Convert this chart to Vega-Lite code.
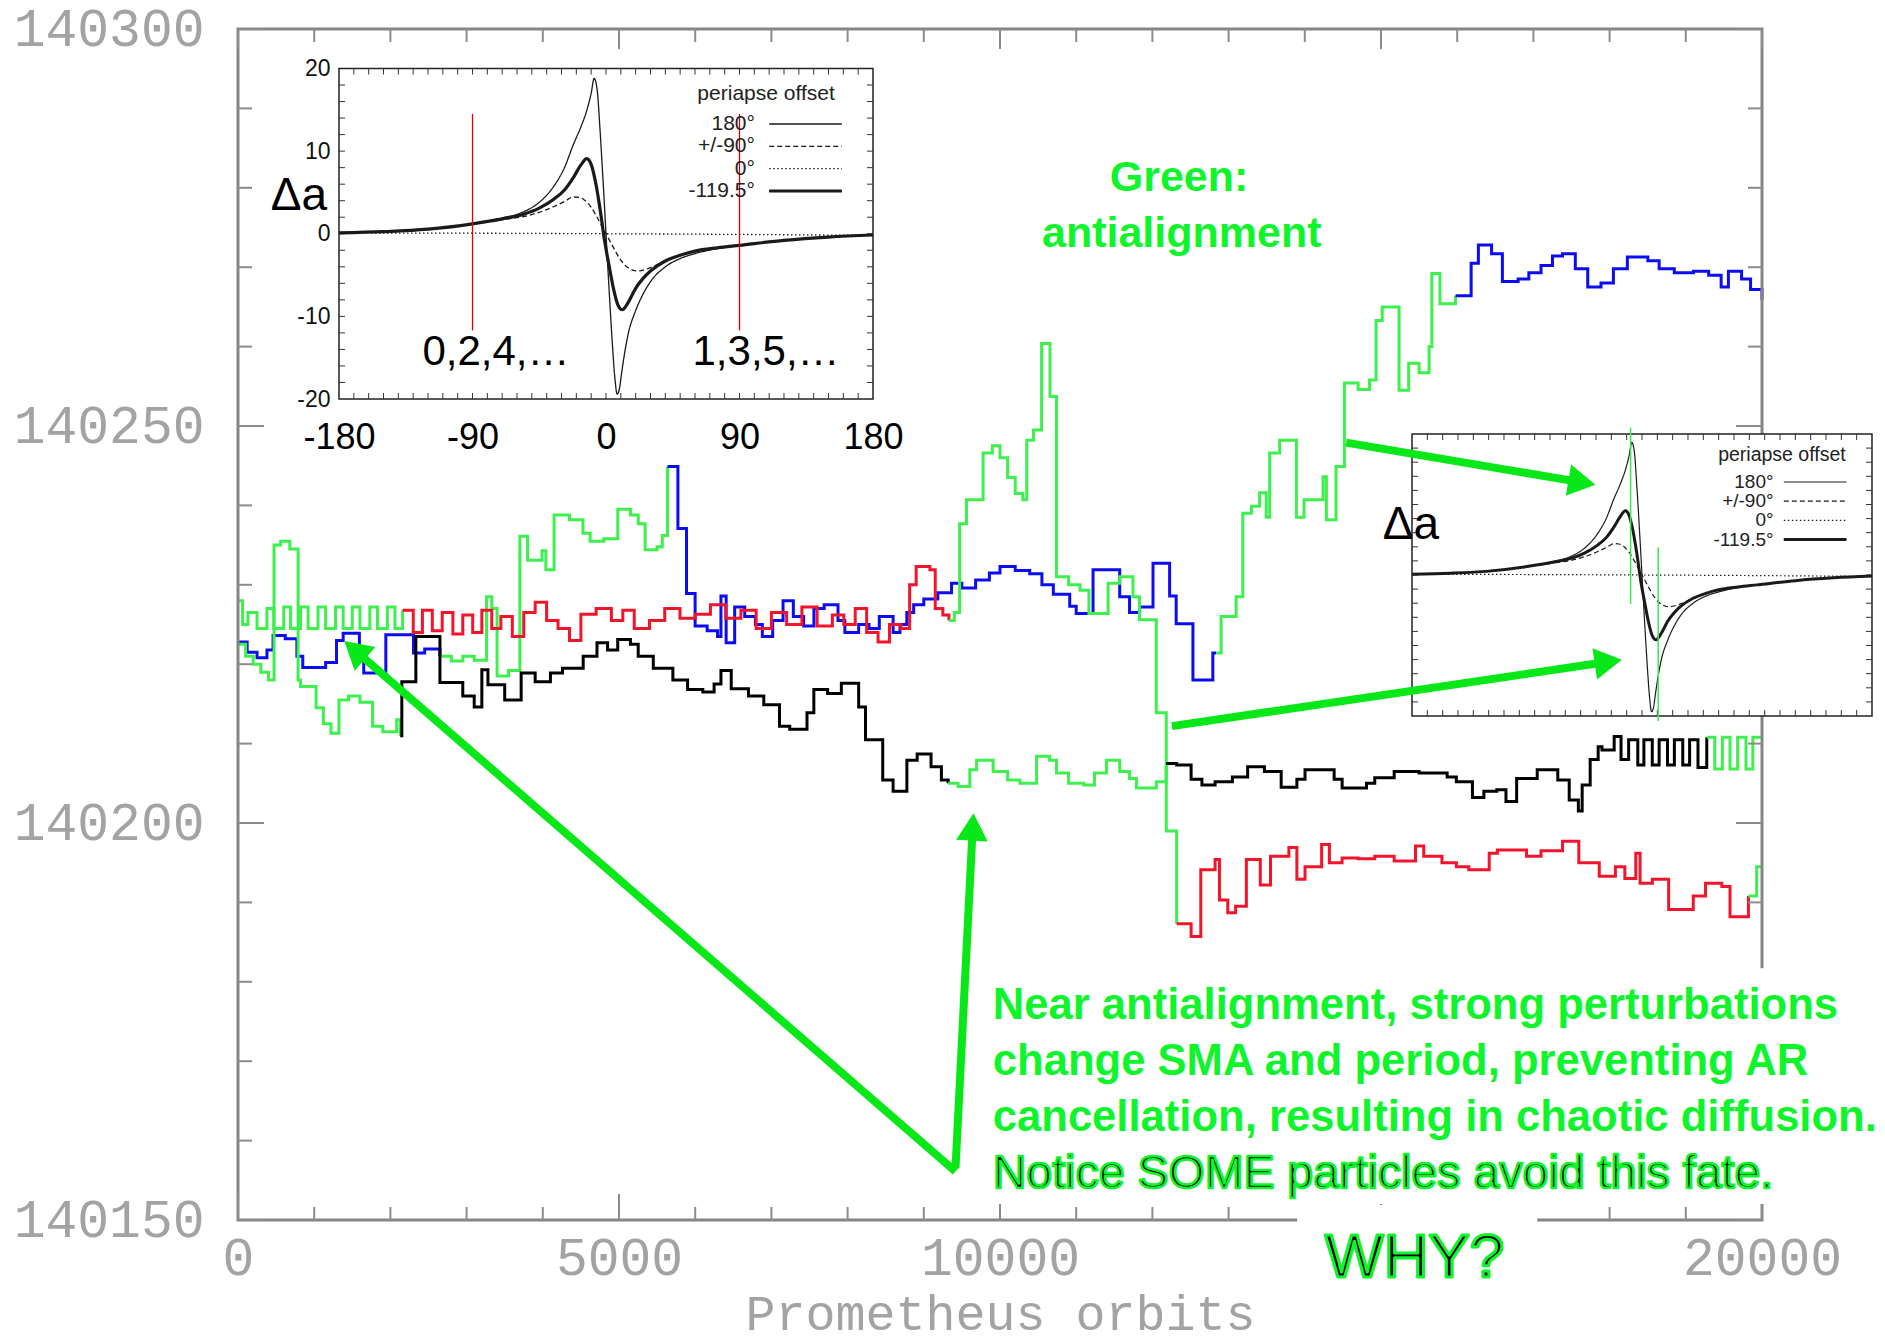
{
  "$schema": "https://vega.github.io/schema/vega-lite/v6.json",
  "width": 1524,
  "height": 1191,
  "autosize": {"type": "none"},
  "padding": {"left": 238, "top": 29, "right": 123, "bottom": 123},
  "background": "white",
  "config": {"view": {"stroke": null}, "text": {"font": "Liberation Sans"}},
  "data": {"values": [{}]},
  "datasets": {
    "tracks": [
      {"s":"A1","c":"blue","x":0,"y":140222.8},{"s":"A1","c":"blue","x":120,"y":140221.5},{"s":"A1","c":"blue","x":250,"y":140220.8},{"s":"A1","c":"blue","x":380,"y":140221.8},{"s":"A1","c":"blue","x":460,"y":140223.6},{"s":"A1","c":"blue","x":620,"y":140223.2},{"s":"A1","c":"blue","x":773,"y":140221.0},{"s":"A1","c":"blue","x":850,"y":140219.6},{"s":"A1","c":"blue","x":1150,"y":140220.2},{"s":"A1","c":"blue","x":1293,"y":140223.0},{"s":"A1","c":"blue","x":1380,"y":140223.9},{"s":"A1","c":"blue","x":1593,"y":140220.5},{"s":"A1","c":"blue","x":1650,"y":140218.9},{"s":"A1","c":"blue","x":1940,"y":140223.7},{"s":"A1","c":"blue","x":2303,"y":140221.4},{"s":"A1","c":"blue","x":2450,"y":140221.9},{"s":"A1","c":"blue","x":2650,"y":140221.0},
      {"s":"A2","c":"green","x":2650,"y":140221.0},{"s":"A2","c":"green","x":2800,"y":140220.4},{"s":"A2","c":"green","x":2950,"y":140221.0},{"s":"A2","c":"green","x":3100,"y":140220.5},{"s":"A2","c":"green","x":3262,"y":140228.5},{"s":"A2","c":"green","x":3330,"y":140227.0},{"s":"A2","c":"green","x":3400,"y":140218.5},{"s":"A2","c":"green","x":3550,"y":140219.2},{"s":"A2","c":"green","x":3699,"y":140236.1},{"s":"A2","c":"green","x":3800,"y":140233.1},{"s":"A2","c":"green","x":3990,"y":140234.3},{"s":"A2","c":"green","x":4040,"y":140231.9},{"s":"A2","c":"green","x":4148,"y":140238.8},{"s":"A2","c":"green","x":4350,"y":140238.2},{"s":"A2","c":"green","x":4527,"y":140236.5},{"s":"A2","c":"green","x":4621,"y":140235.5},{"s":"A2","c":"green","x":4800,"y":140235.8},{"s":"A2","c":"green","x":4984,"y":140239.5},{"s":"A2","c":"green","x":5150,"y":140238.8},{"s":"A2","c":"green","x":5253,"y":140237.7},{"s":"A2","c":"green","x":5343,"y":140234.4},{"s":"A2","c":"green","x":5500,"y":140234.8},{"s":"A2","c":"green","x":5568,"y":140236.2},{"s":"A2","c":"green","x":5636,"y":140244.9},
      {"s":"A3","c":"blue","x":5636,"y":140244.9},{"s":"A3","c":"blue","x":5773,"y":140237.1},{"s":"A3","c":"blue","x":5886,"y":140228.9},{"s":"A3","c":"blue","x":5999,"y":140224.8},{"s":"A3","c":"blue","x":6157,"y":140224.2},{"s":"A3","c":"blue","x":6293,"y":140223.5},{"s":"A3","c":"blue","x":6338,"y":140228.6},{"s":"A3","c":"blue","x":6406,"y":140222.7},{"s":"A3","c":"blue","x":6518,"y":140227.2},{"s":"A3","c":"blue","x":6650,"y":140226.0},{"s":"A3","c":"blue","x":6790,"y":140225.0},{"s":"A3","c":"blue","x":6881,"y":140223.5},{"s":"A3","c":"blue","x":7017,"y":140225.5},{"s":"A3","c":"blue","x":7153,"y":140228.0},{"s":"A3","c":"blue","x":7288,"y":140226.0},{"s":"A3","c":"blue","x":7423,"y":140224.8},{"s":"A3","c":"blue","x":7558,"y":140227.0},{"s":"A3","c":"blue","x":7693,"y":140227.5},{"s":"A3","c":"blue","x":7874,"y":140225.5},{"s":"A3","c":"blue","x":7964,"y":140224.0},{"s":"A3","c":"blue","x":8145,"y":140225.0},{"s":"A3","c":"blue","x":8281,"y":140224.5},{"s":"A3","c":"blue","x":8416,"y":140226.0},{"s":"A3","c":"blue","x":8597,"y":140224.0},{"s":"A3","c":"blue","x":8687,"y":140225.0},{"s":"A3","c":"blue","x":8777,"y":140226.5},{"s":"A3","c":"blue","x":8867,"y":140227.5},{"s":"A3","c":"blue","x":9000,"y":140228.2},{"s":"A3","c":"blue","x":9184,"y":140229.0},{"s":"A3","c":"blue","x":9364,"y":140230.2},{"s":"A3","c":"blue","x":9499,"y":140229.6},{"s":"A3","c":"blue","x":9680,"y":140230.6},{"s":"A3","c":"blue","x":9861,"y":140231.5},{"s":"A3","c":"blue","x":10000,"y":140232.3},{"s":"A3","c":"blue","x":10200,"y":140231.8},{"s":"A3","c":"blue","x":10390,"y":140231.4},{"s":"A3","c":"blue","x":10550,"y":140230.0},{"s":"A3","c":"blue","x":10700,"y":140228.8},{"s":"A3","c":"blue","x":10915,"y":140227.3},{"s":"A3","c":"blue","x":11000,"y":140226.4},{"s":"A3","c":"blue","x":11221,"y":140231.9},{"s":"A3","c":"blue","x":11571,"y":140228.5},{"s":"A3","c":"blue","x":11700,"y":140226.5},{"s":"A3","c":"blue","x":11833,"y":140227.2},{"s":"A3","c":"blue","x":12008,"y":140232.7},{"s":"A3","c":"blue","x":12226,"y":140228.6},{"s":"A3","c":"blue","x":12312,"y":140225.1},{"s":"A3","c":"blue","x":12532,"y":140218.0},{"s":"A3","c":"blue","x":12793,"y":140221.4},{"s":"A3","c":"blue","x":12838,"y":140221.4},
      {"s":"A4","c":"green","x":12838,"y":140221.4},{"s":"A4","c":"green","x":12902,"y":140226.0},{"s":"A4","c":"green","x":13099,"y":140228.5},{"s":"A4","c":"green","x":13186,"y":140239.0},{"s":"A4","c":"green","x":13300,"y":140239.9},{"s":"A4","c":"green","x":13407,"y":140241.6},{"s":"A4","c":"green","x":13494,"y":140238.5},{"s":"A4","c":"green","x":13539,"y":140246.6},{"s":"A4","c":"green","x":13670,"y":140248.2},{"s":"A4","c":"green","x":13890,"y":140238.5},{"s":"A4","c":"green","x":13990,"y":140240.7},{"s":"A4","c":"green","x":14240,"y":140243.6},{"s":"A4","c":"green","x":14283,"y":140238.2},{"s":"A4","c":"green","x":14410,"y":140244.9},{"s":"A4","c":"green","x":14520,"y":140255.4},{"s":"A4","c":"green","x":14700,"y":140254.6},{"s":"A4","c":"green","x":14850,"y":140255.8},{"s":"A4","c":"green","x":14935,"y":140263.3},{"s":"A4","c":"green","x":15016,"y":140265.0},{"s":"A4","c":"green","x":15237,"y":140254.5},{"s":"A4","c":"green","x":15363,"y":140257.9},{"s":"A4","c":"green","x":15500,"y":140256.7},{"s":"A4","c":"green","x":15631,"y":140260.0},{"s":"A4","c":"green","x":15667,"y":140269.2},{"s":"A4","c":"green","x":15773,"y":140265.4},{"s":"A4","c":"green","x":15978,"y":140266.4},
      {"s":"A5","c":"blue","x":15978,"y":140266.4},{"s":"A5","c":"blue","x":16183,"y":140270.5},{"s":"A5","c":"blue","x":16278,"y":140272.8},{"s":"A5","c":"blue","x":16451,"y":140271.7},{"s":"A5","c":"blue","x":16593,"y":140268.2},{"s":"A5","c":"blue","x":16800,"y":140268.5},{"s":"A5","c":"blue","x":16940,"y":140269.3},{"s":"A5","c":"blue","x":17100,"y":140270.2},{"s":"A5","c":"blue","x":17250,"y":140271.4},{"s":"A5","c":"blue","x":17382,"y":140271.7},{"s":"A5","c":"blue","x":17550,"y":140269.8},{"s":"A5","c":"blue","x":17713,"y":140267.5},{"s":"A5","c":"blue","x":17887,"y":140268.0},{"s":"A5","c":"blue","x":18050,"y":140269.8},{"s":"A5","c":"blue","x":18233,"y":140271.3},{"s":"A5","c":"blue","x":18502,"y":140270.8},{"s":"A5","c":"blue","x":18650,"y":140269.8},{"s":"A5","c":"blue","x":18849,"y":140269.3},{"s":"A5","c":"blue","x":19100,"y":140269.5},{"s":"A5","c":"blue","x":19300,"y":140269.0},{"s":"A5","c":"blue","x":19464,"y":140267.5},{"s":"A5","c":"blue","x":19559,"y":140269.5},{"s":"A5","c":"blue","x":19732,"y":140268.5},{"s":"A5","c":"blue","x":19850,"y":140267.2},{"s":"A5","c":"blue","x":20000,"y":140265.9},
      {"s":"B1","c":"green","x":0,"y":140228.0},{"s":"B1","c":"green","x":60,"y":140225.0},{"s":"B1","c":"green","x":130,"y":140226.5},{"s":"B1","c":"green","x":250,"y":140224.5},{"s":"B1","c":"green","x":380,"y":140227.0},{"s":"B1","c":"green","x":470,"y":140224.5},{"s":"B1","c":"green","x":600,"y":140227.2},{"s":"B1","c":"green","x":690,"y":140224.5},{"s":"B1","c":"green","x":820,"y":140227.2},{"s":"B1","c":"green","x":920,"y":140224.5},{"s":"B1","c":"green","x":1050,"y":140227.2},{"s":"B1","c":"green","x":1150,"y":140224.5},{"s":"B1","c":"green","x":1280,"y":140227.2},{"s":"B1","c":"green","x":1380,"y":140224.5},{"s":"B1","c":"green","x":1500,"y":140227.2},{"s":"B1","c":"green","x":1600,"y":140224.5},{"s":"B1","c":"green","x":1730,"y":140227.2},{"s":"B1","c":"green","x":1830,"y":140224.5},{"s":"B1","c":"green","x":1960,"y":140227.2},{"s":"B1","c":"green","x":2060,"y":140224.5},{"s":"B1","c":"green","x":2160,"y":140226.8},
      {"s":"B2","c":"red","x":2160,"y":140226.8},{"s":"B2","c":"red","x":2300,"y":140224.0},{"s":"B2","c":"red","x":2420,"y":140226.8},{"s":"B2","c":"red","x":2550,"y":140224.2},{"s":"B2","c":"red","x":2680,"y":140226.5},{"s":"B2","c":"red","x":2820,"y":140223.8},{"s":"B2","c":"red","x":2950,"y":140226.2},{"s":"B2","c":"red","x":3080,"y":140224.0},{"s":"B2","c":"red","x":3200,"y":140226.8},{"s":"B2","c":"red","x":3330,"y":140224.5},{"s":"B2","c":"red","x":3450,"y":140226.0},{"s":"B2","c":"red","x":3600,"y":140223.5},{"s":"B2","c":"red","x":3750,"y":140226.5},{"s":"B2","c":"red","x":3900,"y":140227.8},{"s":"B2","c":"red","x":4050,"y":140225.5},{"s":"B2","c":"red","x":4200,"y":140224.5},{"s":"B2","c":"red","x":4350,"y":140223.0},{"s":"B2","c":"red","x":4500,"y":140226.3},{"s":"B2","c":"red","x":4700,"y":140227.0},{"s":"B2","c":"red","x":4900,"y":140225.5},{"s":"B2","c":"red","x":5050,"y":140226.8},{"s":"B2","c":"red","x":5200,"y":140224.5},{"s":"B2","c":"red","x":5400,"y":140225.5},{"s":"B2","c":"red","x":5600,"y":140227.0},{"s":"B2","c":"red","x":5800,"y":140225.8},{"s":"B2","c":"red","x":6000,"y":140226.3},{"s":"B2","c":"red","x":6200,"y":140227.5},{"s":"B2","c":"red","x":6400,"y":140225.8},{"s":"B2","c":"red","x":6600,"y":140226.8},{"s":"B2","c":"red","x":6800,"y":140224.5},{"s":"B2","c":"red","x":7000,"y":140226.5},{"s":"B2","c":"red","x":7200,"y":140225.0},{"s":"B2","c":"red","x":7400,"y":140227.2},{"s":"B2","c":"red","x":7600,"y":140224.8},{"s":"B2","c":"red","x":7800,"y":140226.2},{"s":"B2","c":"red","x":7950,"y":140225.0},{"s":"B2","c":"red","x":8100,"y":140227.0},{"s":"B2","c":"red","x":8250,"y":140224.0},{"s":"B2","c":"red","x":8400,"y":140222.8},{"s":"B2","c":"red","x":8550,"y":140225.0},{"s":"B2","c":"red","x":8700,"y":140224.5},{"s":"B2","c":"red","x":8814,"y":140230.0},{"s":"B2","c":"red","x":8900,"y":140232.3},{"s":"B2","c":"red","x":9080,"y":140231.9},{"s":"B2","c":"red","x":9150,"y":140227.0},{"s":"B2","c":"red","x":9250,"y":140226.2},{"s":"B2","c":"red","x":9330,"y":140225.5},
      {"s":"B3","c":"green","x":9330,"y":140225.5},{"s":"B3","c":"green","x":9400,"y":140226.5},{"s":"B3","c":"green","x":9470,"y":140237.7},{"s":"B3","c":"green","x":9560,"y":140240.7},{"s":"B3","c":"green","x":9778,"y":140246.6},{"s":"B3","c":"green","x":9900,"y":140247.5},{"s":"B3","c":"green","x":10000,"y":140246.0},{"s":"B3","c":"green","x":10100,"y":140243.5},{"s":"B3","c":"green","x":10200,"y":140241.5},{"s":"B3","c":"green","x":10300,"y":140240.7},{"s":"B3","c":"green","x":10351,"y":140248.2},{"s":"B3","c":"green","x":10440,"y":140249.5},{"s":"B3","c":"green","x":10546,"y":140260.4},{"s":"B3","c":"green","x":10656,"y":140253.7},{"s":"B3","c":"green","x":10741,"y":140231.0},{"s":"B3","c":"green","x":10900,"y":140230.0},{"s":"B3","c":"green","x":11050,"y":140229.3},{"s":"B3","c":"green","x":11167,"y":140226.4},{"s":"B3","c":"green","x":11419,"y":140230.2},{"s":"B3","c":"green","x":11571,"y":140231.0},{"s":"B3","c":"green","x":11745,"y":140228.5},{"s":"B3","c":"green","x":11830,"y":140225.6},{"s":"B3","c":"green","x":12051,"y":140213.9},{"s":"B3","c":"green","x":12182,"y":140199.0},{"s":"B3","c":"green","x":12318,"y":140187.3},
      {"s":"B4","c":"red","x":12318,"y":140187.3},{"s":"B4","c":"red","x":12508,"y":140185.7},{"s":"B4","c":"red","x":12635,"y":140194.1},{"s":"B4","c":"red","x":12823,"y":140195.4},{"s":"B4","c":"red","x":12880,"y":140190.3},{"s":"B4","c":"red","x":12989,"y":140188.7},{"s":"B4","c":"red","x":13092,"y":140189.5},{"s":"B4","c":"red","x":13233,"y":140195.4},{"s":"B4","c":"red","x":13416,"y":140192.2},{"s":"B4","c":"red","x":13550,"y":140195.8},{"s":"B4","c":"red","x":13791,"y":140196.9},{"s":"B4","c":"red","x":13896,"y":140192.9},{"s":"B4","c":"red","x":14003,"y":140194.5},{"s":"B4","c":"red","x":14221,"y":140197.3},{"s":"B4","c":"red","x":14323,"y":140195.0},{"s":"B4","c":"red","x":14489,"y":140195.6},{"s":"B4","c":"red","x":14700,"y":140195.5},{"s":"B4","c":"red","x":14918,"y":140195.8},{"s":"B4","c":"red","x":15173,"y":140195.2},{"s":"B4","c":"red","x":15453,"y":140197.1},{"s":"B4","c":"red","x":15561,"y":140195.8},{"s":"B4","c":"red","x":15800,"y":140195.0},{"s":"B4","c":"red","x":15989,"y":140194.5},{"s":"B4","c":"red","x":16152,"y":140194.1},{"s":"B4","c":"red","x":16420,"y":140196.2},{"s":"B4","c":"red","x":16527,"y":140196.6},{"s":"B4","c":"red","x":16910,"y":140195.8},{"s":"B4","c":"red","x":17100,"y":140196.5},{"s":"B4","c":"red","x":17382,"y":140197.7},{"s":"B4","c":"red","x":17596,"y":140195.0},{"s":"B4","c":"red","x":17864,"y":140193.3},{"s":"B4","c":"red","x":18076,"y":140194.5},{"s":"B4","c":"red","x":18200,"y":140193.0},{"s":"B4","c":"red","x":18344,"y":140196.2},{"s":"B4","c":"red","x":18400,"y":140192.4},{"s":"B4","c":"red","x":18561,"y":140192.9},{"s":"B4","c":"red","x":18775,"y":140189.1},{"s":"B4","c":"red","x":19098,"y":140190.8},{"s":"B4","c":"red","x":19259,"y":140192.4},{"s":"B4","c":"red","x":19473,"y":140192.0},{"s":"B4","c":"red","x":19580,"y":140188.2},{"s":"B4","c":"red","x":19822,"y":140190.8},
      {"s":"B5","c":"green","x":19822,"y":140190.8},{"s":"B5","c":"green","x":19930,"y":140194.5},{"s":"B5","c":"green","x":20000,"y":140194.5},
      {"s":"C1","c":"green","x":0,"y":140222.5},{"s":"C1","c":"green","x":100,"y":140221.0},{"s":"C1","c":"green","x":200,"y":140220.0},{"s":"C1","c":"green","x":300,"y":140219.0},{"s":"C1","c":"green","x":400,"y":140218.0},{"s":"C1","c":"green","x":473,"y":140235.0},{"s":"C1","c":"green","x":560,"y":140235.5},{"s":"C1","c":"green","x":680,"y":140234.5},{"s":"C1","c":"green","x":789,"y":140218.0},{"s":"C1","c":"green","x":820,"y":140217.2},{"s":"C1","c":"green","x":1025,"y":140214.5},{"s":"C1","c":"green","x":1120,"y":140212.5},{"s":"C1","c":"green","x":1220,"y":140211.3},{"s":"C1","c":"green","x":1325,"y":140215.5},{"s":"C1","c":"green","x":1451,"y":140216.0},{"s":"C1","c":"green","x":1600,"y":140215.2},{"s":"C1","c":"green","x":1766,"y":140212.2},{"s":"C1","c":"green","x":1900,"y":140211.5},{"s":"C1","c":"green","x":2082,"y":140213.0},{"s":"C1","c":"green","x":2129,"y":140211.0},
      {"s":"C2","c":"black","x":2129,"y":140211.0},{"s":"C2","c":"black","x":2150,"y":140217.8},{"s":"C2","c":"black","x":2334,"y":140223.5},{"s":"C2","c":"black","x":2650,"y":140217.7},{"s":"C2","c":"black","x":2950,"y":140216.0},{"s":"C2","c":"black","x":3100,"y":140214.6},{"s":"C2","c":"black","x":3200,"y":140219.3},{"s":"C2","c":"black","x":3280,"y":140217.4},{"s":"C2","c":"black","x":3500,"y":140215.5},{"s":"C2","c":"black","x":3716,"y":140218.9},{"s":"C2","c":"black","x":3900,"y":140217.8},{"s":"C2","c":"black","x":4100,"y":140218.9},{"s":"C2","c":"black","x":4259,"y":140219.5},{"s":"C2","c":"black","x":4530,"y":140221.0},{"s":"C2","c":"black","x":4711,"y":140222.7},{"s":"C2","c":"black","x":4850,"y":140221.8},{"s":"C2","c":"black","x":4983,"y":140223.1},{"s":"C2","c":"black","x":5150,"y":140222.5},{"s":"C2","c":"black","x":5252,"y":140221.0},{"s":"C2","c":"black","x":5450,"y":140219.5},{"s":"C2","c":"black","x":5707,"y":140218.0},{"s":"C2","c":"black","x":5900,"y":140216.8},{"s":"C2","c":"black","x":6100,"y":140216.5},{"s":"C2","c":"black","x":6248,"y":140217.5},{"s":"C2","c":"black","x":6338,"y":140219.2},{"s":"C2","c":"black","x":6473,"y":140216.9},{"s":"C2","c":"black","x":6699,"y":140216.0},{"s":"C2","c":"black","x":6900,"y":140214.9},{"s":"C2","c":"black","x":7106,"y":140212.2},{"s":"C2","c":"black","x":7241,"y":140211.8},{"s":"C2","c":"black","x":7467,"y":140213.9},{"s":"C2","c":"black","x":7557,"y":140216.8},{"s":"C2","c":"black","x":7738,"y":140216.3},{"s":"C2","c":"black","x":7918,"y":140217.6},{"s":"C2","c":"black","x":8145,"y":140214.6},{"s":"C2","c":"black","x":8235,"y":140210.5},{"s":"C2","c":"black","x":8461,"y":140205.4},{"s":"C2","c":"black","x":8597,"y":140204.0},{"s":"C2","c":"black","x":8778,"y":140207.9},{"s":"C2","c":"black","x":8913,"y":140208.7},{"s":"C2","c":"black","x":9095,"y":140207.1},{"s":"C2","c":"black","x":9231,"y":140205.4},{"s":"C2","c":"black","x":9320,"y":140205.0},
      {"s":"C3","c":"green","x":9320,"y":140205.0},{"s":"C3","c":"green","x":9450,"y":140204.6},{"s":"C3","c":"green","x":9604,"y":140206.7},{"s":"C3","c":"green","x":9692,"y":140207.9},{"s":"C3","c":"green","x":9910,"y":140206.5},{"s":"C3","c":"green","x":10100,"y":140205.4},{"s":"C3","c":"green","x":10262,"y":140205.0},{"s":"C3","c":"green","x":10480,"y":140208.4},{"s":"C3","c":"green","x":10650,"y":140207.9},{"s":"C3","c":"green","x":10741,"y":140206.3},{"s":"C3","c":"green","x":10900,"y":140205.0},{"s":"C3","c":"green","x":11100,"y":140204.8},{"s":"C3","c":"green","x":11240,"y":140206.3},{"s":"C3","c":"green","x":11396,"y":140207.9},{"s":"C3","c":"green","x":11571,"y":140206.5},{"s":"C3","c":"green","x":11700,"y":140205.6},{"s":"C3","c":"green","x":11790,"y":140204.4},{"s":"C3","c":"green","x":12051,"y":140205.2},{"s":"C3","c":"green","x":12180,"y":140207.5},
      {"s":"C4","c":"black","x":12180,"y":140207.5},{"s":"C4","c":"black","x":12318,"y":140207.3},{"s":"C4","c":"black","x":12508,"y":140205.5},{"s":"C4","c":"black","x":12650,"y":140204.8},{"s":"C4","c":"black","x":12823,"y":140205.2},{"s":"C4","c":"black","x":13050,"y":140205.8},{"s":"C4","c":"black","x":13250,"y":140207.1},{"s":"C4","c":"black","x":13470,"y":140206.5},{"s":"C4","c":"black","x":13690,"y":140204.5},{"s":"C4","c":"black","x":13896,"y":140205.5},{"s":"C4","c":"black","x":14003,"y":140206.7},{"s":"C4","c":"black","x":14385,"y":140205.5},{"s":"C4","c":"black","x":14490,"y":140204.4},{"s":"C4","c":"black","x":14810,"y":140205.0},{"s":"C4","c":"black","x":14918,"y":140205.7},{"s":"C4","c":"black","x":15173,"y":140206.5},{"s":"C4","c":"black","x":15500,"y":140206.3},{"s":"C4","c":"black","x":15868,"y":140205.8},{"s":"C4","c":"black","x":15989,"y":140205.2},{"s":"C4","c":"black","x":16200,"y":140203.2},{"s":"C4","c":"black","x":16350,"y":140204.0},{"s":"C4","c":"black","x":16520,"y":140204.2},{"s":"C4","c":"black","x":16640,"y":140202.7},{"s":"C4","c":"black","x":16780,"y":140205.6},{"s":"C4","c":"black","x":17050,"y":140206.7},{"s":"C4","c":"black","x":17320,"y":140205.4},{"s":"C4","c":"black","x":17470,"y":140202.9},{"s":"C4","c":"black","x":17590,"y":140201.5},{"s":"C4","c":"black","x":17640,"y":140204.8},{"s":"C4","c":"black","x":17745,"y":140208.0},{"s":"C4","c":"black","x":17850,"y":140209.6},{"s":"C4","c":"black","x":17900,"y":140209.2},{"s":"C4","c":"black","x":18060,"y":140210.9},{"s":"C4","c":"black","x":18150,"y":140208.0},{"s":"C4","c":"black","x":18250,"y":140210.5},{"s":"C4","c":"black","x":18370,"y":140207.3},{"s":"C4","c":"black","x":18450,"y":140210.5},{"s":"C4","c":"black","x":18560,"y":140207.3},{"s":"C4","c":"black","x":18650,"y":140210.5},{"s":"C4","c":"black","x":18760,"y":140207.3},{"s":"C4","c":"black","x":18850,"y":140210.5},{"s":"C4","c":"black","x":18960,"y":140207.3},{"s":"C4","c":"black","x":19050,"y":140210.5},{"s":"C4","c":"black","x":19160,"y":140207.0},{"s":"C4","c":"black","x":19275,"y":140210.8},
      {"s":"C5","c":"green","x":19275,"y":140210.8},{"s":"C5","c":"green","x":19380,"y":140206.8},{"s":"C5","c":"green","x":19480,"y":140210.8},{"s":"C5","c":"green","x":19580,"y":140206.8},{"s":"C5","c":"green","x":19680,"y":140210.8},{"s":"C5","c":"green","x":19790,"y":140206.8},{"s":"C5","c":"green","x":19880,"y":140210.8},{"s":"C5","c":"green","x":20000,"y":140210.8}
    ],
    "curves": [
      {"o":"180°","x":-180,"y":0.1},{"o":"180°","x":-150,"y":0.25},{"o":"180°","x":-120,"y":0.55},{"o":"180°","x":-90,"y":1.2},{"o":"180°","x":-70,"y":1.9},{"o":"180°","x":-55,"y":2.7},{"o":"180°","x":-45,"y":3.8},{"o":"180°","x":-35,"y":5.8},{"o":"180°","x":-28,"y":8.0},{"o":"180°","x":-22,"y":10.8},{"o":"180°","x":-17,"y":12.9},{"o":"180°","x":-13,"y":14.9},{"o":"180°","x":-10,"y":17.0},{"o":"180°","x":-8,"y":18.8},{"o":"180°","x":-6,"y":17.5},{"o":"180°","x":-4,"y":12.5},{"o":"180°","x":-2,"y":6.5},{"o":"180°","x":0,"y":0},{"o":"180°","x":2,"y":-6.5},{"o":"180°","x":4,"y":-12.5},{"o":"180°","x":6,"y":-17.5},{"o":"180°","x":7.5,"y":-19.4},{"o":"180°","x":9,"y":-18.8},{"o":"180°","x":10.5,"y":-16.9},{"o":"180°","x":12.5,"y":-14.5},{"o":"180°","x":15,"y":-12.1},{"o":"180°","x":20,"y":-9.3},{"o":"180°","x":25,"y":-7.3},{"o":"180°","x":30,"y":-5.8},{"o":"180°","x":40,"y":-4.0},{"o":"180°","x":50,"y":-3.0},{"o":"180°","x":60,"y":-2.4},{"o":"180°","x":75,"y":-1.8},{"o":"180°","x":90,"y":-1.4},{"o":"180°","x":120,"y":-0.8},{"o":"180°","x":150,"y":-0.4},{"o":"180°","x":180,"y":-0.15},
      {"o":"+/-90°","x":-180,"y":0.1},{"o":"+/-90°","x":-150,"y":0.22},{"o":"+/-90°","x":-120,"y":0.5},{"o":"+/-90°","x":-90,"y":1.15},{"o":"+/-90°","x":-70,"y":1.7},{"o":"+/-90°","x":-55,"y":2.1},{"o":"+/-90°","x":-45,"y":2.6},{"o":"+/-90°","x":-35,"y":3.3},{"o":"+/-90°","x":-28,"y":3.9},{"o":"+/-90°","x":-22,"y":4.45},{"o":"+/-90°","x":-18,"y":4.4},{"o":"+/-90°","x":-14,"y":4.0},{"o":"+/-90°","x":-10,"y":3.2},{"o":"+/-90°","x":-6,"y":2.0},{"o":"+/-90°","x":-3,"y":1.0},{"o":"+/-90°","x":0,"y":0},{"o":"+/-90°","x":3,"y":-1.0},{"o":"+/-90°","x":6,"y":-2.0},{"o":"+/-90°","x":10,"y":-3.2},{"o":"+/-90°","x":14,"y":-4.0},{"o":"+/-90°","x":18,"y":-4.4},{"o":"+/-90°","x":21,"y":-4.5},{"o":"+/-90°","x":25,"y":-4.4},{"o":"+/-90°","x":30,"y":-4.1},{"o":"+/-90°","x":40,"y":-3.3},{"o":"+/-90°","x":50,"y":-2.6},{"o":"+/-90°","x":60,"y":-2.1},{"o":"+/-90°","x":75,"y":-1.7},{"o":"+/-90°","x":90,"y":-1.35},{"o":"+/-90°","x":120,"y":-0.8},{"o":"+/-90°","x":150,"y":-0.4},{"o":"+/-90°","x":180,"y":-0.15},
      {"o":"0°","x":-180,"y":0.1},{"o":"0°","x":-120,"y":0.08},{"o":"0°","x":-60,"y":0.05},{"o":"0°","x":0,"y":0},{"o":"0°","x":60,"y":-0.05},{"o":"0°","x":120,"y":-0.12},{"o":"0°","x":180,"y":-0.2},
      {"o":"-119.5°","x":-180,"y":0.1},{"o":"-119.5°","x":-150,"y":0.25},{"o":"-119.5°","x":-120,"y":0.55},{"o":"-119.5°","x":-90,"y":1.2},{"o":"-119.5°","x":-70,"y":1.8},{"o":"-119.5°","x":-55,"y":2.4},{"o":"-119.5°","x":-45,"y":3.1},{"o":"-119.5°","x":-35,"y":4.2},{"o":"-119.5°","x":-28,"y":5.3},{"o":"-119.5°","x":-22,"y":6.8},{"o":"-119.5°","x":-17,"y":8.3},{"o":"-119.5°","x":-13,"y":9.1},{"o":"-119.5°","x":-10,"y":8.4},{"o":"-119.5°","x":-7,"y":6.2},{"o":"-119.5°","x":-4,"y":3.0},{"o":"-119.5°","x":-1,"y":-0.8},{"o":"-119.5°","x":2,"y":-3.8},{"o":"-119.5°","x":5,"y":-6.6},{"o":"-119.5°","x":8,"y":-8.6},{"o":"-119.5°","x":11,"y":-9.2},{"o":"-119.5°","x":15,"y":-8.3},{"o":"-119.5°","x":20,"y":-6.6},{"o":"-119.5°","x":25,"y":-5.4},{"o":"-119.5°","x":30,"y":-4.5},{"o":"-119.5°","x":40,"y":-3.3},{"o":"-119.5°","x":50,"y":-2.6},{"o":"-119.5°","x":60,"y":-2.1},{"o":"-119.5°","x":75,"y":-1.7},{"o":"-119.5°","x":90,"y":-1.4},{"o":"-119.5°","x":120,"y":-0.8},{"o":"-119.5°","x":150,"y":-0.4},{"o":"-119.5°","x":180,"y":-0.15}
    ],
    "offsets": [{"o":"180°"},{"o":"+/-90°"},{"o":"0°"},{"o":"-119.5°"}],
    "mx": [{"v":0,"m":1},{"v":1000,"m":0},{"v":2000,"m":0},{"v":3000,"m":0},{"v":4000,"m":0},{"v":5000,"m":1},{"v":6000,"m":0},{"v":7000,"m":0},{"v":8000,"m":0},{"v":9000,"m":0},{"v":10000,"m":1},{"v":11000,"m":0},{"v":12000,"m":0},{"v":13000,"m":0},{"v":14000,"m":0},{"v":15000,"m":1},{"v":16000,"m":0},{"v":17000,"m":0},{"v":18000,"m":0},{"v":19000,"m":0},{"v":20000,"m":1}],
    "my": [{"v":140150,"m":1},{"v":140160,"m":0},{"v":140170,"m":0},{"v":140180,"m":0},{"v":140190,"m":0},{"v":140200,"m":1},{"v":140210,"m":0},{"v":140220,"m":0},{"v":140230,"m":0},{"v":140240,"m":0},{"v":140250,"m":1},{"v":140260,"m":0},{"v":140270,"m":0},{"v":140280,"m":0},{"v":140290,"m":0},{"v":140300,"m":1}],
    "ix1": [{"v":-170},{"v":-160},{"v":-150},{"v":-140},{"v":-130},{"v":-120},{"v":-110},{"v":-100},{"v":-90},{"v":-80},{"v":-70},{"v":-60},{"v":-50},{"v":-40},{"v":-30},{"v":-20},{"v":-10},{"v":0},{"v":10},{"v":20},{"v":30},{"v":40},{"v":50},{"v":60},{"v":70},{"v":80},{"v":90},{"v":100},{"v":110},{"v":120},{"v":130},{"v":140},{"v":150},{"v":160},{"v":170}],
    "ix2": [{"v":-168},{"v":-156},{"v":-144},{"v":-132},{"v":-120},{"v":-108},{"v":-96},{"v":-84},{"v":-72},{"v":-60},{"v":-48},{"v":-36},{"v":-24},{"v":-12},{"v":0},{"v":12},{"v":24},{"v":36},{"v":48},{"v":60},{"v":72},{"v":84},{"v":96},{"v":108},{"v":120},{"v":132},{"v":144},{"v":156},{"v":168}],
    "iy": [{"v":-18},{"v":-16},{"v":-14},{"v":-12},{"v":-10},{"v":-8},{"v":-6},{"v":-4},{"v":-2},{"v":0},{"v":2},{"v":4},{"v":6},{"v":8},{"v":10},{"v":12},{"v":14},{"v":16},{"v":18}],
    "marks90": [{"v":-90},{"v":90}]
  },
  "resolve": {"scale": {"x": "independent", "y": "independent"}, "axis": {"x": "independent", "y": "independent"}},
  "layer": [
    {
      "data": {"name": "mx"},
      "mark": {"type": "rule", "opacity": 0},
      "encoding": {
        "x": {"field": "v", "type": "quantitative", "scale": {"domain": [0, 20000], "nice": false, "zero": false},
          "axis": {"orient": "bottom", "values": [0, 5000, 10000, 20000], "format": "d", "domain": false, "ticks": false, "grid": false, "labelFont": "Liberation Mono", "labelFontSize": 53, "labelColor": "#a3a3a3", "labelBaseline": "alphabetic", "labelPadding": 54, "labelFlush": false, "labelOverlap": false, "labelLimit": 0, "title": "Prometheus orbits", "titleFont": "Liberation Mono", "titleFontSize": 50, "titleFontWeight": "normal", "titleColor": "#a3a3a3", "titleBaseline": "alphabetic", "titleY": 109, "titleLimit": 0}},
        "y": {"datum": 140150, "type": "quantitative", "scale": {"domain": [140150, 140300], "nice": false, "zero": false}, "axis": null},
        "y2": {"datum": 140300}
      }
    },
    {
      "data": {"name": "my"},
      "mark": {"type": "rule", "opacity": 0},
      "encoding": {
        "y": {"field": "v", "type": "quantitative", "scale": {"domain": [140150, 140300], "nice": false, "zero": false},
          "axis": {"orient": "left", "values": [140150, 140200, 140250, 140300], "format": "d", "domain": false, "ticks": false, "grid": false, "labelFont": "Liberation Mono", "labelFontSize": 53, "labelColor": "#a3a3a3", "labelBaseline": "middle", "labelPadding": 34, "labelOverlap": false, "labelLimit": 0, "title": null}},
        "x": {"datum": 0, "type": "quantitative", "scale": {"domain": [0, 20000], "nice": false, "zero": false}, "axis": null},
        "x2": {"datum": 20000}
      }
    },
    {
      "data": {"name": "ix1"},
      "mark": {"type": "rule", "opacity": 0},
      "encoding": {
        "x": {"field": "v", "type": "quantitative", "scale": {"domain": [-248.09, 779.33], "nice": false, "zero": false},
          "axis": {"orient": "bottom", "offset": -821, "values": [-180, -90, 0, 90, 180], "labelExpr": "'' + datum.value", "domain": false, "ticks": false, "grid": false, "labelFont": "Liberation Sans", "labelFontSize": 36, "labelColor": "#000000", "labelBaseline": "alphabetic", "labelPadding": 49, "labelFlush": false, "labelOverlap": false, "labelLimit": 0, "title": null}},
        "y": {"datum": -20, "type": "quantitative", "scale": {"domain": [-119.365, 24.781], "nice": false, "zero": false}, "axis": null},
        "y2": {"datum": 20}
      }
    },
    {
      "data": {"name": "iy"},
      "mark": {"type": "rule", "opacity": 0},
      "encoding": {
        "y": {"field": "v", "type": "quantitative", "scale": {"domain": [-119.365, 24.781], "nice": false, "zero": false},
          "axis": {"orient": "left", "offset": -101, "values": [-20, -10, 0, 10, 20], "labelExpr": "'' + datum.value", "domain": false, "ticks": false, "grid": false, "labelFont": "Liberation Sans", "labelFontSize": 23, "labelColor": "#111111", "labelBaseline": "middle", "labelPadding": 9, "labelOverlap": false, "labelLimit": 0, "title": null}},
        "x": {"datum": -180, "type": "quantitative", "scale": {"domain": [-248.09, 779.33], "nice": false, "zero": false}, "axis": null},
        "x2": {"datum": 180}
      }
    },
    {
      "layer": [
        {
          "data": {"name": "tracks"},
          "mark": {"type": "line", "interpolate": "step-after", "strokeWidth": 3},
          "encoding": {
            "x": {"field": "x", "type": "quantitative", "scale": {"domain": [0, 20000], "nice": false, "zero": false}, "axis": null},
            "y": {"field": "y", "type": "quantitative", "scale": {"domain": [140150, 140300], "nice": false, "zero": false}, "axis": null},
            "detail": {"field": "s"},
            "color": {"field": "c", "type": "nominal", "scale": {"domain": ["blue", "red", "black", "green"], "range": ["#0c0cf2", "#f2142a", "#000000", "#3ef04e"]}, "legend": null}
          }
        },
        {
          "mark": {"type": "rect", "filled": false, "color": "#858585", "strokeWidth": 3},
          "encoding": {
            "x": {"datum": 0, "type": "quantitative", "scale": {"domain": [0, 20000], "nice": false, "zero": false}, "axis": null},
            "x2": {"datum": 20000},
            "y": {"datum": 140150, "type": "quantitative", "scale": {"domain": [140150, 140300], "nice": false, "zero": false}, "axis": null},
            "y2": {"datum": 140300}
          }
        },
        {
          "data": {"name": "mx"}, "transform": [{"filter": "datum.m == 0"}],
          "mark": {"type": "rule", "color": "#8c8c8c", "strokeWidth": 2, "y2Offset": -13},
          "encoding": {"x": {"field": "v", "type": "quantitative", "scale": {"domain": [0, 20000], "nice": false, "zero": false}, "axis": null}, "y": {"datum": 140150, "type": "quantitative", "scale": {"domain": [140150, 140300], "nice": false, "zero": false}, "axis": null}, "y2": {"datum": 140150}}
        },
        {
          "data": {"name": "mx"}, "transform": [{"filter": "datum.m == 1"}],
          "mark": {"type": "rule", "color": "#8c8c8c", "strokeWidth": 2, "y2Offset": -26},
          "encoding": {"x": {"field": "v", "type": "quantitative", "scale": {"domain": [0, 20000], "nice": false, "zero": false}, "axis": null}, "y": {"datum": 140150, "type": "quantitative", "scale": {"domain": [140150, 140300], "nice": false, "zero": false}, "axis": null}, "y2": {"datum": 140150}}
        },
        {
          "data": {"name": "mx"}, "transform": [{"filter": "datum.m == 0"}],
          "mark": {"type": "rule", "color": "#8c8c8c", "strokeWidth": 2, "y2Offset": 13},
          "encoding": {"x": {"field": "v", "type": "quantitative", "scale": {"domain": [0, 20000], "nice": false, "zero": false}, "axis": null}, "y": {"datum": 140300, "type": "quantitative", "scale": {"domain": [140150, 140300], "nice": false, "zero": false}, "axis": null}, "y2": {"datum": 140300}}
        },
        {
          "data": {"name": "mx"}, "transform": [{"filter": "datum.m == 1"}],
          "mark": {"type": "rule", "color": "#8c8c8c", "strokeWidth": 2, "y2Offset": 20},
          "encoding": {"x": {"field": "v", "type": "quantitative", "scale": {"domain": [0, 20000], "nice": false, "zero": false}, "axis": null}, "y": {"datum": 140300, "type": "quantitative", "scale": {"domain": [140150, 140300], "nice": false, "zero": false}, "axis": null}, "y2": {"datum": 140300}}
        },
        {
          "data": {"name": "my"}, "transform": [{"filter": "datum.m == 0"}],
          "mark": {"type": "rule", "color": "#8c8c8c", "strokeWidth": 2, "x2Offset": 14},
          "encoding": {"y": {"field": "v", "type": "quantitative", "scale": {"domain": [140150, 140300], "nice": false, "zero": false}, "axis": null}, "x": {"datum": 0, "type": "quantitative", "scale": {"domain": [0, 20000], "nice": false, "zero": false}, "axis": null}, "x2": {"datum": 0}}
        },
        {
          "data": {"name": "my"}, "transform": [{"filter": "datum.m == 1"}],
          "mark": {"type": "rule", "color": "#8c8c8c", "strokeWidth": 2, "x2Offset": 26},
          "encoding": {"y": {"field": "v", "type": "quantitative", "scale": {"domain": [140150, 140300], "nice": false, "zero": false}, "axis": null}, "x": {"datum": 0, "type": "quantitative", "scale": {"domain": [0, 20000], "nice": false, "zero": false}, "axis": null}, "x2": {"datum": 0}}
        },
        {
          "data": {"name": "my"}, "transform": [{"filter": "datum.m == 0"}],
          "mark": {"type": "rule", "color": "#8c8c8c", "strokeWidth": 2, "x2Offset": -14},
          "encoding": {"y": {"field": "v", "type": "quantitative", "scale": {"domain": [140150, 140300], "nice": false, "zero": false}, "axis": null}, "x": {"datum": 20000, "type": "quantitative", "scale": {"domain": [0, 20000], "nice": false, "zero": false}, "axis": null}, "x2": {"datum": 20000}}
        },
        {
          "data": {"name": "my"}, "transform": [{"filter": "datum.m == 1"}],
          "mark": {"type": "rule", "color": "#8c8c8c", "strokeWidth": 2, "x2Offset": -26},
          "encoding": {"y": {"field": "v", "type": "quantitative", "scale": {"domain": [140150, 140300], "nice": false, "zero": false}, "axis": null}, "x": {"datum": 20000, "type": "quantitative", "scale": {"domain": [0, 20000], "nice": false, "zero": false}, "axis": null}, "x2": {"datum": 20000}}
        }
      ]
    },
    {
      "resolve": {"scale": {"y": "independent"}},
      "layer": [
        {
          "layer": [
            {
              "mark": {"type": "rect", "fill": "white", "stroke": "#222222", "strokeWidth": 1.5},
              "encoding": {
                "x": {"datum": -180, "type": "quantitative", "scale": {"domain": [-248.09, 779.33], "nice": false, "zero": false}, "axis": null},
                "x2": {"datum": 180},
                "y": {"datum": -20, "type": "quantitative", "scale": {"domain": [-119.365, 24.781], "nice": false, "zero": false}, "axis": null},
                "y2": {"datum": 20}
              }
            },
            {
              "data": {"name": "ix1"},
              "mark": {"type": "rule", "color": "#333333", "strokeWidth": 1, "y2Offset": -6},
              "encoding": {"x": {"field": "v", "type": "quantitative", "scale": {"domain": [-248.09, 779.33], "nice": false, "zero": false}, "axis": null}, "y": {"datum": -20, "type": "quantitative", "scale": {"domain": [-119.365, 24.781], "nice": false, "zero": false}, "axis": null}, "y2": {"datum": -20}}
            },
            {
              "data": {"name": "ix1"},
              "mark": {"type": "rule", "color": "#333333", "strokeWidth": 1, "y2Offset": 6},
              "encoding": {"x": {"field": "v", "type": "quantitative", "scale": {"domain": [-248.09, 779.33], "nice": false, "zero": false}, "axis": null}, "y": {"datum": 20, "type": "quantitative", "scale": {"domain": [-119.365, 24.781], "nice": false, "zero": false}, "axis": null}, "y2": {"datum": 20}}
            },
            {
              "data": {"name": "iy"},
              "mark": {"type": "rule", "color": "#333333", "strokeWidth": 1, "x2Offset": 6},
              "encoding": {"y": {"field": "v", "type": "quantitative", "scale": {"domain": [-119.365, 24.781], "nice": false, "zero": false}, "axis": null}, "x": {"datum": -180, "type": "quantitative", "scale": {"domain": [-248.09, 779.33], "nice": false, "zero": false}, "axis": null}, "x2": {"datum": -180}}
            },
            {
              "data": {"name": "iy"},
              "mark": {"type": "rule", "color": "#333333", "strokeWidth": 1, "x2Offset": -6},
              "encoding": {"y": {"field": "v", "type": "quantitative", "scale": {"domain": [-119.365, 24.781], "nice": false, "zero": false}, "axis": null}, "x": {"datum": 180, "type": "quantitative", "scale": {"domain": [-248.09, 779.33], "nice": false, "zero": false}, "axis": null}, "x2": {"datum": 180}}
            },
            {
              "data": {"name": "curves"},
              "mark": {"type": "line", "interpolate": "monotone", "color": "#1a1a1a", "strokeWidth": 1.3},
              "encoding": {
                "x": {"field": "x", "type": "quantitative", "scale": {"domain": [-248.09, 779.33], "nice": false, "zero": false}, "axis": null},
                "y": {"field": "y", "type": "quantitative", "scale": {"domain": [-119.365, 24.781], "nice": false, "zero": false}, "axis": null},
                "strokeDash": {"field": "o", "type": "nominal", "scale": {"domain": ["180°", "+/-90°", "0°", "-119.5°"], "range": [[1, 0], [5, 3], [1.5, 2.5], [1, 0]]}, "legend": null}
              }
            },
            {
              "data": {"name": "curves"}, "transform": [{"filter": "datum.o == '-119.5°'"}],
              "mark": {"type": "line", "interpolate": "monotone", "color": "#1a1a1a", "strokeWidth": 3.2},
              "encoding": {
                "x": {"field": "x", "type": "quantitative", "scale": {"domain": [-248.09, 779.33], "nice": false, "zero": false}, "axis": null},
                "y": {"field": "y", "type": "quantitative", "scale": {"domain": [-119.365, 24.781], "nice": false, "zero": false}, "axis": null}
              }
            },
            {
              "data": {"name": "marks90"},
              "mark": {"type": "rule", "color": "#e00000", "strokeWidth": 1.3},
              "encoding": {"x": {"field": "v", "type": "quantitative", "scale": {"domain": [-248.09, 779.33], "nice": false, "zero": false}, "axis": null}, "y": {"datum": 14.5, "type": "quantitative", "scale": {"domain": [-119.365, 24.781], "nice": false, "zero": false}, "axis": null}, "y2": {"datum": -11.7}}
            },
            {
              "mark": {"type": "text", "text": "Δa", "fontSize": 46, "align": "right", "baseline": "middle", "color": "#000000"},
              "encoding": {"x": {"datum": -188.1, "type": "quantitative", "scale": {"domain": [-248.09, 779.33], "nice": false, "zero": false}, "axis": null}, "y": {"datum": 4.6, "type": "quantitative", "scale": {"domain": [-119.365, 24.781], "nice": false, "zero": false}, "axis": null}}
            },
            {
              "mark": {"type": "text", "text": "0,2,4,…", "fontSize": 42, "align": "center", "baseline": "middle", "color": "#000000"},
              "encoding": {"x": {"datum": -74.2, "type": "quantitative", "scale": {"domain": [-248.09, 779.33], "nice": false, "zero": false}, "axis": null}, "y": {"datum": -14.3, "type": "quantitative", "scale": {"domain": [-119.365, 24.781], "nice": false, "zero": false}, "axis": null}}
            },
            {
              "mark": {"type": "text", "text": "1,3,5,…", "fontSize": 42, "align": "center", "baseline": "middle", "color": "#000000"},
              "encoding": {"x": {"datum": 107.9, "type": "quantitative", "scale": {"domain": [-248.09, 779.33], "nice": false, "zero": false}, "axis": null}, "y": {"datum": -14.3, "type": "quantitative", "scale": {"domain": [-119.365, 24.781], "nice": false, "zero": false}, "axis": null}}
            },
            {
              "mark": {"type": "text", "text": "periapse offset", "fontSize": 21, "align": "center", "baseline": "middle", "color": "#222222"},
              "encoding": {"x": {"datum": 107.9, "type": "quantitative", "scale": {"domain": [-248.09, 779.33], "nice": false, "zero": false}, "axis": null}, "y": {"datum": 16.9, "type": "quantitative", "scale": {"domain": [-119.365, 24.781], "nice": false, "zero": false}, "axis": null}}
            }
          ]
        },
        {
          "data": {"name": "offsets"},
          "layer": [
            {
              "mark": {"type": "text", "fontSize": 21, "align": "right", "baseline": "middle", "color": "#222222"},
              "encoding": {
                "x": {"datum": 100.4, "type": "quantitative", "scale": {"domain": [-248.09, 779.33], "nice": false, "zero": false}, "axis": null},
                "y": {"field": "o", "type": "nominal", "scale": {"type": "point", "domain": ["180°", "+/-90°", "0°", "-119.5°"], "range": [95, 162], "padding": 0}, "axis": null},
                "text": {"field": "o"}
              }
            },
            {
              "mark": {"type": "rule", "color": "#1a1a1a", "strokeWidth": 1.3},
              "encoding": {
                "x": {"datum": 110, "type": "quantitative", "scale": {"domain": [-248.09, 779.33], "nice": false, "zero": false}, "axis": null},
                "x2": {"datum": 159},
                "y": {"field": "o", "type": "nominal", "scale": {"type": "point", "domain": ["180°", "+/-90°", "0°", "-119.5°"], "range": [95, 162], "padding": 0}, "axis": null},
                "strokeDash": {"field": "o", "type": "nominal", "scale": {"domain": ["180°", "+/-90°", "0°", "-119.5°"], "range": [[1, 0], [5, 3], [1.5, 2.5], [1, 0]]}, "legend": null}
              }
            },
            {
              "transform": [{"filter": "datum.o == '-119.5°'"}],
              "mark": {"type": "rule", "color": "#1a1a1a", "strokeWidth": 3.2},
              "encoding": {
                "x": {"datum": 110, "type": "quantitative", "scale": {"domain": [-248.09, 779.33], "nice": false, "zero": false}, "axis": null},
                "x2": {"datum": 159},
                "y": {"field": "o", "type": "nominal", "scale": {"type": "point", "domain": ["180°", "+/-90°", "0°", "-119.5°"], "range": [95, 162], "padding": 0}, "axis": null}
              }
            }
          ]
        }
      ]
    },
    {
      "resolve": {"scale": {"y": "independent"}},
      "layer": [
        {
          "layer": [
            {
              "mark": {"type": "rect", "fill": "white", "stroke": "#222222", "strokeWidth": 1.5},
              "encoding": {
                "x": {"datum": -180, "type": "quantitative", "scale": {"domain": [-1098.78, 93.92], "nice": false, "zero": false}, "axis": null},
                "x2": {"datum": 180},
                "y": {"datum": -20, "type": "quantitative", "scale": {"domain": [-91.489, 77.447], "nice": false, "zero": false}, "axis": null},
                "y2": {"datum": 20}
              }
            },
            {
              "data": {"name": "ix2"},
              "mark": {"type": "rule", "color": "#333333", "strokeWidth": 1, "y2Offset": -6},
              "encoding": {"x": {"field": "v", "type": "quantitative", "scale": {"domain": [-1098.78, 93.92], "nice": false, "zero": false}, "axis": null}, "y": {"datum": -20, "type": "quantitative", "scale": {"domain": [-91.489, 77.447], "nice": false, "zero": false}, "axis": null}, "y2": {"datum": -20}}
            },
            {
              "data": {"name": "ix2"},
              "mark": {"type": "rule", "color": "#333333", "strokeWidth": 1, "y2Offset": 6},
              "encoding": {"x": {"field": "v", "type": "quantitative", "scale": {"domain": [-1098.78, 93.92], "nice": false, "zero": false}, "axis": null}, "y": {"datum": 20, "type": "quantitative", "scale": {"domain": [-91.489, 77.447], "nice": false, "zero": false}, "axis": null}, "y2": {"datum": 20}}
            },
            {
              "data": {"name": "iy"},
              "mark": {"type": "rule", "color": "#333333", "strokeWidth": 1, "x2Offset": 6},
              "encoding": {"y": {"field": "v", "type": "quantitative", "scale": {"domain": [-91.489, 77.447], "nice": false, "zero": false}, "axis": null}, "x": {"datum": -180, "type": "quantitative", "scale": {"domain": [-1098.78, 93.92], "nice": false, "zero": false}, "axis": null}, "x2": {"datum": -180}}
            },
            {
              "data": {"name": "iy"},
              "mark": {"type": "rule", "color": "#333333", "strokeWidth": 1, "x2Offset": -6},
              "encoding": {"y": {"field": "v", "type": "quantitative", "scale": {"domain": [-91.489, 77.447], "nice": false, "zero": false}, "axis": null}, "x": {"datum": 180, "type": "quantitative", "scale": {"domain": [-1098.78, 93.92], "nice": false, "zero": false}, "axis": null}, "x2": {"datum": 180}}
            },
            {
              "data": {"name": "curves"},
              "mark": {"type": "line", "interpolate": "monotone", "color": "#1a1a1a", "strokeWidth": 1.2},
              "encoding": {
                "x": {"field": "x", "type": "quantitative", "scale": {"domain": [-1098.78, 93.92], "nice": false, "zero": false}, "axis": null},
                "y": {"field": "y", "type": "quantitative", "scale": {"domain": [-91.489, 77.447], "nice": false, "zero": false}, "axis": null},
                "strokeDash": {"field": "o", "type": "nominal", "scale": {"domain": ["180°", "+/-90°", "0°", "-119.5°"], "range": [[1, 0], [5, 3], [1.5, 2.5], [1, 0]]}, "legend": null}
              }
            },
            {
              "data": {"name": "curves"}, "transform": [{"filter": "datum.o == '-119.5°'"}],
              "mark": {"type": "line", "interpolate": "monotone", "color": "#1a1a1a", "strokeWidth": 3},
              "encoding": {
                "x": {"field": "x", "type": "quantitative", "scale": {"domain": [-1098.78, 93.92], "nice": false, "zero": false}, "axis": null},
                "y": {"field": "y", "type": "quantitative", "scale": {"domain": [-91.489, 77.447], "nice": false, "zero": false}, "axis": null}
              }
            },
            {
              "mark": {"type": "rule", "color": "#3be84a", "strokeWidth": 1.5},
              "encoding": {"x": {"datum": -8.9, "type": "quantitative", "scale": {"domain": [-1098.78, 93.92], "nice": false, "zero": false}, "axis": null}, "y": {"datum": 20.9, "type": "quantitative", "scale": {"domain": [-91.489, 77.447], "nice": false, "zero": false}, "axis": null}, "y2": {"datum": -4.1}}
            },
            {
              "mark": {"type": "rule", "color": "#3be84a", "strokeWidth": 1.5},
              "encoding": {"x": {"datum": 12.7, "type": "quantitative", "scale": {"domain": [-1098.78, 93.92], "nice": false, "zero": false}, "axis": null}, "y": {"datum": 3.9, "type": "quantitative", "scale": {"domain": [-91.489, 77.447], "nice": false, "zero": false}, "axis": null}, "y2": {"datum": -20.7}}
            },
            {
              "mark": {"type": "text", "text": "Δa", "fontSize": 46, "align": "right", "baseline": "middle", "color": "#000000"},
              "encoding": {"x": {"datum": -158.8, "type": "quantitative", "scale": {"domain": [-1098.78, 93.92], "nice": false, "zero": false}, "axis": null}, "y": {"datum": 7.1, "type": "quantitative", "scale": {"domain": [-91.489, 77.447], "nice": false, "zero": false}, "axis": null}}
            },
            {
              "mark": {"type": "text", "text": "periapse offset", "fontSize": 19.5, "align": "center", "baseline": "middle", "color": "#222222"},
              "encoding": {"x": {"datum": 109.5, "type": "quantitative", "scale": {"domain": [-1098.78, 93.92], "nice": false, "zero": false}, "axis": null}, "y": {"datum": 17.0, "type": "quantitative", "scale": {"domain": [-91.489, 77.447], "nice": false, "zero": false}, "axis": null}}
            }
          ]
        },
        {
          "data": {"name": "offsets"},
          "layer": [
            {
              "mark": {"type": "text", "fontSize": 19, "align": "right", "baseline": "middle", "color": "#222222"},
              "encoding": {
                "x": {"datum": 103, "type": "quantitative", "scale": {"domain": [-1098.78, 93.92], "nice": false, "zero": false}, "axis": null},
                "y": {"field": "o", "type": "nominal", "scale": {"type": "point", "domain": ["180°", "+/-90°", "0°", "-119.5°"], "range": [453, 510.5], "padding": 0}, "axis": null},
                "text": {"field": "o"}
              }
            },
            {
              "mark": {"type": "rule", "color": "#1a1a1a", "strokeWidth": 1.2},
              "encoding": {
                "x": {"datum": 111, "type": "quantitative", "scale": {"domain": [-1098.78, 93.92], "nice": false, "zero": false}, "axis": null},
                "x2": {"datum": 160},
                "y": {"field": "o", "type": "nominal", "scale": {"type": "point", "domain": ["180°", "+/-90°", "0°", "-119.5°"], "range": [453, 510.5], "padding": 0}, "axis": null},
                "strokeDash": {"field": "o", "type": "nominal", "scale": {"domain": ["180°", "+/-90°", "0°", "-119.5°"], "range": [[1, 0], [5, 3], [1.5, 2.5], [1, 0]]}, "legend": null}
              }
            },
            {
              "transform": [{"filter": "datum.o == '-119.5°'"}],
              "mark": {"type": "rule", "color": "#1a1a1a", "strokeWidth": 3},
              "encoding": {
                "x": {"datum": 111, "type": "quantitative", "scale": {"domain": [-1098.78, 93.92], "nice": false, "zero": false}, "axis": null},
                "x2": {"datum": 160},
                "y": {"field": "o", "type": "nominal", "scale": {"type": "point", "domain": ["180°", "+/-90°", "0°", "-119.5°"], "range": [453, 510.5], "padding": 0}, "axis": null}
              }
            }
          ]
        }
      ]
    },
    {
      "layer": [
        {
          "mark": {"type": "rect", "color": "white"},
          "encoding": {"x": {"datum": 9750, "type": "quantitative", "scale": {"domain": [0, 20000], "nice": false, "zero": false}, "axis": null}, "x2": {"datum": 22000}, "y": {"datum": 140152.0, "type": "quantitative", "scale": {"domain": [140150, 140300], "nice": false, "zero": false}, "axis": null}, "y2": {"datum": 140181.7}}
        },
        {
          "mark": {"type": "rect", "color": "white"},
          "encoding": {"x": {"datum": 13900, "type": "quantitative", "scale": {"domain": [0, 20000], "nice": false, "zero": false}, "axis": null}, "x2": {"datum": 17050}, "y": {"datum": 140139, "type": "quantitative", "scale": {"domain": [140150, 140300], "nice": false, "zero": false}, "axis": null}, "y2": {"datum": 140151.9}}
        },
        {
          "mark": {"type": "text", "text": "Green:", "fontSize": 43, "fontWeight": "bold", "color": "#0ef52c", "align": "center", "baseline": "middle"},
          "encoding": {"x": {"datum": 12350, "type": "quantitative", "scale": {"domain": [0, 20000], "nice": false, "zero": false}, "axis": null}, "y": {"datum": 140281.2, "type": "quantitative", "scale": {"domain": [140150, 140300], "nice": false, "zero": false}, "axis": null}}
        },
        {
          "mark": {"type": "text", "text": "antialignment", "fontSize": 43, "fontWeight": "bold", "color": "#0ef52c", "align": "center", "baseline": "middle"},
          "encoding": {"x": {"datum": 12385, "type": "quantitative", "scale": {"domain": [0, 20000], "nice": false, "zero": false}, "axis": null}, "y": {"datum": 140274.2, "type": "quantitative", "scale": {"domain": [140150, 140300], "nice": false, "zero": false}, "axis": null}}
        },
        {
          "mark": {"type": "text", "text": "Near antialignment, strong perturbations", "fontSize": 43.6, "fontWeight": "bold", "color": "#0ef52c", "align": "left", "baseline": "middle"},
          "encoding": {"x": {"datum": 9905, "type": "quantitative", "scale": {"domain": [0, 20000], "nice": false, "zero": false}, "axis": null}, "y": {"datum": 140177.0, "type": "quantitative", "scale": {"domain": [140150, 140300], "nice": false, "zero": false}, "axis": null}}
        },
        {
          "mark": {"type": "text", "text": "change SMA and period, preventing AR", "fontSize": 43.6, "fontWeight": "bold", "color": "#0ef52c", "align": "left", "baseline": "middle"},
          "encoding": {"x": {"datum": 9905, "type": "quantitative", "scale": {"domain": [0, 20000], "nice": false, "zero": false}, "axis": null}, "y": {"datum": 140169.9, "type": "quantitative", "scale": {"domain": [140150, 140300], "nice": false, "zero": false}, "axis": null}}
        },
        {
          "mark": {"type": "text", "text": "cancellation, resulting in chaotic diffusion.", "fontSize": 43.6, "fontWeight": "bold", "color": "#0ef52c", "align": "left", "baseline": "middle"},
          "encoding": {"x": {"datum": 9905, "type": "quantitative", "scale": {"domain": [0, 20000], "nice": false, "zero": false}, "axis": null}, "y": {"datum": 140162.8, "type": "quantitative", "scale": {"domain": [140150, 140300], "nice": false, "zero": false}, "axis": null}}
        },
        {
          "mark": {"type": "text", "text": "Notice SOME particles avoid this fate.", "fontSize": 46.5, "fill": "#000000", "stroke": "#0ef52c", "strokeWidth": 2.6, "strokeJoin": "round", "align": "left", "baseline": "middle"},
          "encoding": {"x": {"datum": 9905, "type": "quantitative", "scale": {"domain": [0, 20000], "nice": false, "zero": false}, "axis": null}, "y": {"datum": 140155.8, "type": "quantitative", "scale": {"domain": [140150, 140300], "nice": false, "zero": false}, "axis": null}}
        },
        {
          "mark": {"type": "text", "text": "WHY?", "fontSize": 62, "fill": "#000000", "stroke": "#0ef52c", "strokeWidth": 3.2, "strokeJoin": "round", "align": "center", "baseline": "middle"},
          "encoding": {"x": {"datum": 15442, "type": "quantitative", "scale": {"domain": [0, 20000], "nice": false, "zero": false}, "axis": null}, "y": {"datum": 140145.2, "type": "quantitative", "scale": {"domain": [140150, 140300], "nice": false, "zero": false}, "axis": null}}
        },
        {
          "mark": {"type": "rule", "color": "#08e818", "strokeWidth": 8},
          "encoding": {"x": {"datum": 9416, "type": "quantitative", "scale": {"domain": [0, 20000], "nice": false, "zero": false}, "axis": null}, "x2": {"datum": 1531}, "y": {"datum": 140156.1, "type": "quantitative", "scale": {"domain": [140150, 140300], "nice": false, "zero": false}, "axis": null}, "y2": {"datum": 140221.8}}
        },
        {
          "mark": {"type": "rule", "color": "#08e818", "strokeWidth": 8},
          "encoding": {"x": {"datum": 9416, "type": "quantitative", "scale": {"domain": [0, 20000], "nice": false, "zero": false}, "axis": null}, "x2": {"datum": 9642}, "y": {"datum": 140156.5, "type": "quantitative", "scale": {"domain": [140150, 140300], "nice": false, "zero": false}, "axis": null}, "y2": {"datum": 140199.5}}
        },
        {
          "mark": {"type": "rule", "color": "#08e818", "strokeWidth": 8},
          "encoding": {"x": {"datum": 14543, "type": "quantitative", "scale": {"domain": [0, 20000], "nice": false, "zero": false}, "axis": null}, "x2": {"datum": 17637}, "y": {"datum": 140247.9, "type": "quantitative", "scale": {"domain": [140150, 140300], "nice": false, "zero": false}, "axis": null}, "y2": {"datum": 140242.9}}
        },
        {
          "mark": {"type": "rule", "color": "#08e818", "strokeWidth": 8},
          "encoding": {"x": {"datum": 12256, "type": "quantitative", "scale": {"domain": [0, 20000], "nice": false, "zero": false}, "axis": null}, "x2": {"datum": 17983}, "y": {"datum": 140212.2, "type": "quantitative", "scale": {"domain": [140150, 140300], "nice": false, "zero": false}, "axis": null}, "y2": {"datum": 140220.3}}
        },
        {
          "mark": {"type": "point", "shape": "triangle-up", "size": 1000, "filled": true, "opacity": 1, "color": "#08e818", "angle": 310.9},
          "encoding": {"x": {"datum": 1531, "type": "quantitative", "scale": {"domain": [0, 20000], "nice": false, "zero": false}, "axis": null}, "y": {"datum": 140221.8, "type": "quantitative", "scale": {"domain": [140150, 140300], "nice": false, "zero": false}, "axis": null}}
        },
        {
          "mark": {"type": "point", "shape": "triangle-up", "size": 1000, "filled": true, "opacity": 1, "color": "#08e818", "angle": 3.3},
          "encoding": {"x": {"datum": 9642, "type": "quantitative", "scale": {"domain": [0, 20000], "nice": false, "zero": false}, "axis": null}, "y": {"datum": 140199.5, "type": "quantitative", "scale": {"domain": [140150, 140300], "nice": false, "zero": false}, "axis": null}}
        },
        {
          "mark": {"type": "point", "shape": "triangle-up", "size": 1000, "filled": true, "opacity": 1, "color": "#08e818", "angle": 99.6},
          "encoding": {"x": {"datum": 17637, "type": "quantitative", "scale": {"domain": [0, 20000], "nice": false, "zero": false}, "axis": null}, "y": {"datum": 140242.9, "type": "quantitative", "scale": {"domain": [140150, 140300], "nice": false, "zero": false}, "axis": null}}
        },
        {
          "mark": {"type": "point", "shape": "triangle-up", "size": 1000, "filled": true, "opacity": 1, "color": "#08e818", "angle": 81.7},
          "encoding": {"x": {"datum": 17983, "type": "quantitative", "scale": {"domain": [0, 20000], "nice": false, "zero": false}, "axis": null}, "y": {"datum": 140220.3, "type": "quantitative", "scale": {"domain": [140150, 140300], "nice": false, "zero": false}, "axis": null}}
        }
      ]
    }
  ]
}
